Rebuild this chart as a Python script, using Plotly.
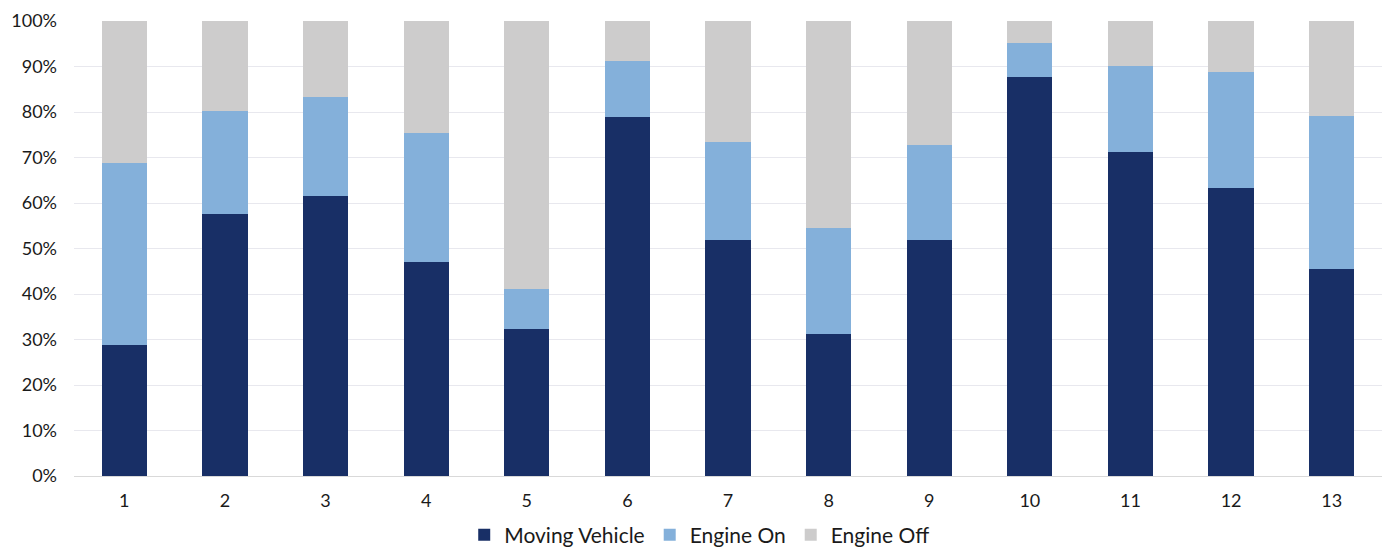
import plotly.graph_objects as go

categories = [str(i) for i in range(1, 14)]
moving_vehicle = [28.7, 57.5, 61.6, 47.1, 32.2, 78.8, 51.9, 31.2, 51.9, 87.7, 71.3, 63.4, 45.5]
engine_on_top = [68.9, 80.3, 83.4, 75.3, 41.0, 91.2, 73.4, 54.4, 72.7, 95.1, 90.1, 88.8, 79.2]
engine_on = [round(t - m, 1) for t, m in zip(engine_on_top, moving_vehicle)]
engine_off = [round(100 - t, 1) for t in engine_on_top]

series = [
    ("Moving Vehicle", moving_vehicle, "#182f66"),
    ("Engine On", engine_on, "#84b0da"),
    ("Engine Off", engine_off, "#cdcccc"),
]

fig = go.Figure()
for name, vals, color in series:
    fig.add_trace(go.Bar(
        x=categories, y=vals, name=name,
        marker=dict(color=color, line=dict(width=0)),
    ))

fig.update_layout(
    barmode="stack",
    bargap=0.55,
    width=1392, height=550,
    margin=dict(l=74, r=10, t=21, b=74, autoexpand=False),
    plot_bgcolor="white", paper_bgcolor="white",
    font=dict(family="Lato, Open Sans, sans-serif", size=18, color="#1a1a1a"),
    legend=dict(orientation="h", x=0.478, xanchor="center", y=-0.085, yanchor="top",
                font=dict(size=21), traceorder="normal", itemwidth=30),
    yaxis=dict(range=[0, 100], dtick=10, ticksuffix="%", showgrid=True,
               gridcolor="#e8e8ee", gridwidth=1, zeroline=False,
               ticks="", ticklabelstandoff=16),
    xaxis=dict(showline=True, linecolor="#d9d9d9", linewidth=1, ticks="",
               ticklabelstandoff=8),
    showlegend=True,
)

fig.write_html("out.html")
